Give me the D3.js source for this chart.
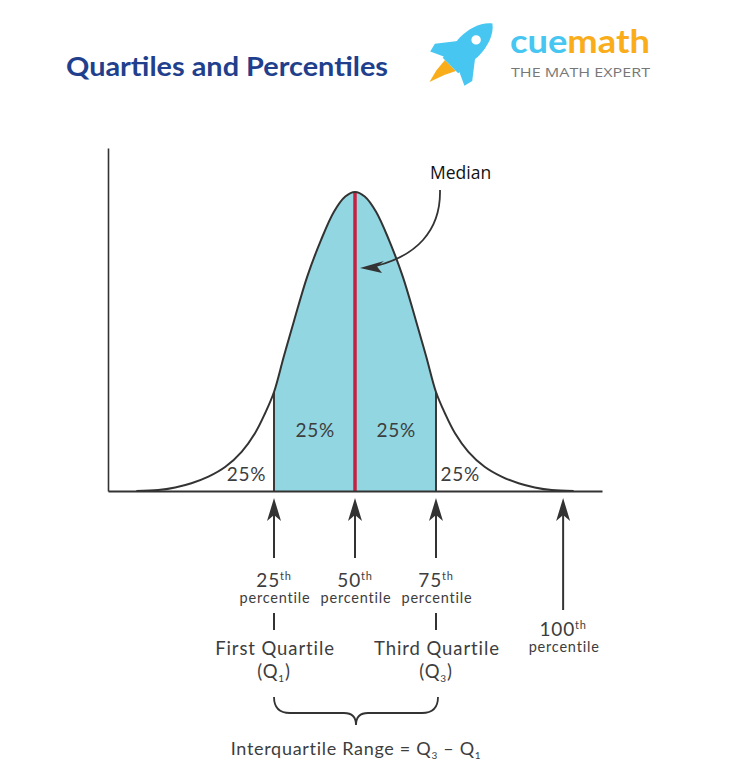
<!DOCTYPE html>
<html>
<head>
<meta charset="utf-8">
<script src="https://cdn.jsdelivr.net/npm/d3@7"></script>
<style>
  html, body { margin: 0; padding: 0; background: #fff; }
  svg { display: block; }
</style>
</head>
<body>
<div id="chart"></div>
<script>
// ---- data ----
// bell curve, x in "quartile units" (Q1 = -1, Q3 = +1), height relative to the peak
const curveX = [-2.70, -2.43, -2.22, -2.02, -1.81, -1.60, -1.40, -1.235, -1.11, -1.0, -0.88, -0.75, -0.59, -0.42, -0.26, -0.12, 0,
                 0.12, 0.26, 0.42, 0.59, 0.75, 0.88, 1.0, 1.11, 1.235, 1.40, 1.60, 1.81, 2.02, 2.22, 2.43, 2.70];
const curveY = [0.0, 0.003, 0.012, 0.026, 0.048, 0.081, 0.131, 0.193, 0.260, 0.331, 0.449, 0.572, 0.717, 0.839, 0.934, 0.985, 1.0,
                0.985, 0.934, 0.839, 0.717, 0.572, 0.449, 0.331, 0.260, 0.193, 0.131, 0.081, 0.048, 0.026, 0.012, 0.003, 0.0];
const quartileX = [-1, 0, 1];            // Q1, median, Q3
const quartileH = [0.331, 1.0, 0.331];   // curve height at those points
const areaLabels = ["25%", "25%", "25%", "25%"];
const areaLabelX = [-1.34, -0.49, 0.51, 1.30];
const areaLabelY = [0.032, 0.181, 0.181, 0.032];
const percentileNames = ["25", "50", "75", "100"];
const percentileX = [-1, 0, 1, 2.57];
const quartileNames = ["First Quartile", "Third Quartile"];
const quartileSubs = ["1", "3"];

const W = 755, H = 780;
const svg = d3.select("#chart").append("svg").attr("width", W).attr("height", H);

const x = d3.scaleLinear().domain([-3.05, 3.05]).range([108, 602]);
const y = d3.scaleLinear().domain([0, 1.147]).range([491, 148]);

const ink = "#333";
const textInk = "#3d3d3d";
const gothic = "'Lato', 'Open Sans', sans-serif";

// ---- header ----
svg.append("text").attr("x", 66).attr("y", 76)
  .attr("font-family", "'Lato', sans-serif").attr("font-weight", 700)
  .attr("font-size", 26).attr("fill", "#213f8c")
  .attr("textLength", 322).attr("lengthAdjust", "spacingAndGlyphs")
  .text("Quartiles and Percentiles");

// rocket logo
const rocket = svg.append("g").attr("transform", "translate(466,50) rotate(45) scale(1.1)");
rocket.append("path") // flame
  .attr("d", "M-7,20 L7,20 L2,30 L-3,44 L-6,32 Z").attr("fill", "#f9ad1b");
rocket.append("path") // fins
  .attr("d", "M-10,-2 L-24,16 L-22,24 L-9,18 Z M10,-2 L24,16 L22,24 L9,18 Z").attr("fill", "#47c6f1");
rocket.append("path") // body
  .attr("d", "M0,-34 C8,-28 12,-16 12,-4 L10,20 L-10,20 L-12,-4 C-12,-16 -8,-28 0,-34 Z").attr("fill", "#47c6f1");
rocket.append("circle").attr("cx", 0).attr("cy", -13).attr("r", 4.3).attr("fill", "#fff");

const brand = svg.append("text").attr("x", 510).attr("y", 53)
  .attr("font-family", "'Lato', sans-serif").attr("font-weight", 700).attr("font-size", 32)
  .attr("textLength", 140).attr("lengthAdjust", "spacingAndGlyphs");
brand.append("tspan").attr("fill", "#47c6f1").text("cue");
brand.append("tspan").attr("fill", "#f9ad1b").text("math");
svg.append("text").attr("x", 511).attr("y", 77)
  .attr("font-family", "'Open Sans', sans-serif").attr("font-size", 13.5).attr("fill", "#777")
  .attr("textLength", 139).attr("lengthAdjust", "spacingAndGlyphs")
  .text("THE MATH EXPERT");

// ---- curve ----
const pts = curveX.map((d, i) => [d, curveY[i]]);
const defs = svg.append("defs");
defs.append("clipPath").attr("id", "iqr").append("rect")
  .attr("x", x(quartileX[0])).attr("y", 0)
  .attr("width", x(quartileX[2]) - x(quartileX[0])).attr("height", H);

const smooth = d3.curveCatmullRom.alpha(0.5);
const area = d3.area().x(d => x(d[0])).y0(y(0)).y1(d => y(d[1])).curve(smooth);
const line = d3.line().x(d => x(d[0])).y(d => y(d[1])).curve(smooth);

svg.append("path").datum(pts).attr("d", area).attr("fill", "#92d6e1").attr("clip-path", "url(#iqr)");

// quartile boundary lines
[0, 2].forEach(i => {
  svg.append("line").attr("x1", x(quartileX[i])).attr("x2", x(quartileX[i]))
    .attr("y1", y(0)).attr("y2", y(quartileH[i]))
    .attr("stroke", "#3a3a3a").attr("stroke-width", 2);
});

// median line
svg.append("line").attr("x1", x(quartileX[1])).attr("x2", x(quartileX[1]))
  .attr("y1", y(0)).attr("y2", y(quartileH[1]))
  .attr("stroke", "#c8213f").attr("stroke-width", 3.5);

svg.append("path").datum(pts).attr("d", line).attr("fill", "none")
  .attr("stroke", ink).attr("stroke-width", 2);

// axes
const xAxis = svg.append("g").attr("transform", `translate(0,${y(0)})`)
  .call(d3.axisBottom(x).ticks(0).tickSizeOuter(0));
xAxis.select(".domain").attr("stroke", ink).attr("stroke-width", 2);
const yAxis = svg.append("g").attr("transform", `translate(${x.range()[0]},0)`)
  .call(d3.axisLeft(y).ticks(0).tickSizeOuter(0));
yAxis.select(".domain").attr("stroke", ink).attr("stroke-width", 1.6);

// area labels
areaLabels.forEach((t, i) => {
  svg.append("text").attr("x", x(areaLabelX[i])).attr("y", y(areaLabelY[i]))
    .attr("text-anchor", "middle").attr("font-family", gothic).attr("font-size", 19)
    .attr("letter-spacing", 0.8).attr("fill", textInk).text(t);
});

// median annotation
svg.append("text").attr("x", 430).attr("y", 179)
  .attr("font-family", "'Open Sans', sans-serif").attr("font-size", 17.5).attr("fill", "#111")
  .text("Median");
svg.append("path").attr("d", "M440,190 C441,232 415,256 376,266")
  .attr("fill", "none").attr("stroke", ink).attr("stroke-width", 1.8);
svg.append("path").attr("d", "M360,268 L384,261 L377,266.5 L382,273 Z").attr("fill", ink);

// ---- percentile arrows & labels ----
percentileNames.forEach((p, i) => {
  const px = x(percentileX[i]);
  const bottom = i === 3 ? 610 : 558;
  svg.append("line").attr("x1", px).attr("x2", px).attr("y1", 512).attr("y2", bottom)
    .attr("stroke", ink).attr("stroke-width", 2);
  svg.append("path").attr("d", `M${px},498 L${px + 7},521 L${px},515 L${px - 7},521 Z`).attr("fill", ink);
  const ty = i === 3 ? 636 : 587;
  const t = svg.append("text").attr("x", px).attr("y", ty).attr("text-anchor", "middle")
    .attr("font-family", gothic).attr("font-size", 19).attr("fill", textInk).attr("letter-spacing", 0.8);
  t.append("tspan").text(p);
  t.append("tspan").attr("font-size", 11).attr("dy", -7).text("th");
  svg.append("text").attr("x", px + 1).attr("y", ty + 16).attr("text-anchor", "middle")
    .attr("font-family", gothic).attr("font-size", 14.5).attr("fill", textInk)
    .attr("letter-spacing", 0.8).text("percentile");
});

// quartile names
[0, 2].forEach((qi, k) => {
  const px = x(quartileX[qi]);
  svg.append("line").attr("x1", px).attr("x2", px).attr("y1", 613).attr("y2", 630)
    .attr("stroke", ink).attr("stroke-width", 2);
  svg.append("text").attr("x", px + 1).attr("y", 655).attr("text-anchor", "middle")
    .attr("font-family", gothic).attr("font-size", 18.5).attr("fill", textInk)
    .attr("letter-spacing", 0.9).text(quartileNames[k]);
  const q = svg.append("text").attr("x", px).attr("y", 678).attr("text-anchor", "middle")
    .attr("font-family", gothic).attr("font-size", 18.5).attr("fill", textInk).attr("letter-spacing", 0.8);
  q.append("tspan").text("(Q");
  q.append("tspan").attr("font-size", 10).attr("dy", 4).text(quartileSubs[k]);
  q.append("tspan").attr("dy", -4).text(")");
});

// brace
const bx0 = x(quartileX[0]), bx1 = x(quartileX[2]) + 2, bm = (bx0 + bx1) / 2;
svg.append("path")
  .attr("d", `M${bx0},697 Q${bx0},713 ${bx0 + 16},713 L${bm - 12},713 Q${bm},713 ${bm},725 Q${bm},713 ${bm + 12},713 L${bx1 - 16},713 Q${bx1},713 ${bx1},697`)
  .attr("fill", "none").attr("stroke", ink).attr("stroke-width", 1.8);

const iqr = svg.append("text").attr("x", bm).attr("y", 755).attr("text-anchor", "middle")
  .attr("font-family", gothic).attr("font-size", 18).attr("fill", textInk).attr("letter-spacing", 0.7);
iqr.append("tspan").text("Interquartile Range = Q");
iqr.append("tspan").attr("font-size", 10).attr("dy", 4).text("3");
iqr.append("tspan").attr("dy", -4).text(" \u2013 Q");
iqr.append("tspan").attr("font-size", 10).attr("dy", 4).text("1");
</script>
</body>
</html>
